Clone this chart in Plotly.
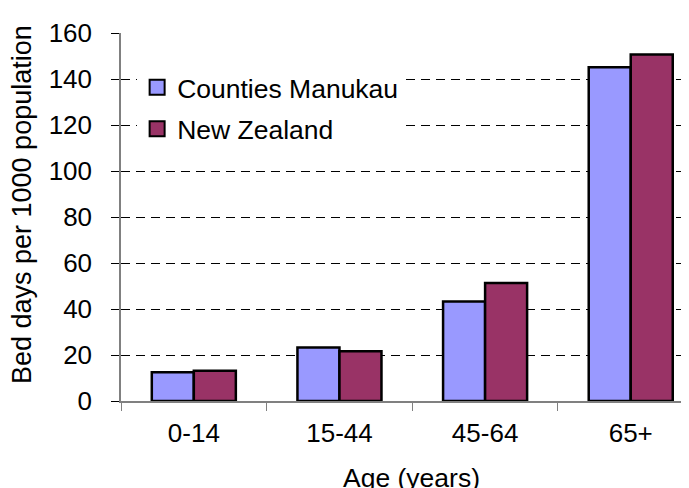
import plotly.graph_objects as go

# Bed days per 1000 population by age group
age_groups = ['0-14', '15-44', '45-64', '65+']
counties_manukau = [12.5, 23.3, 43.3, 145.1]
new_zealand = [13.2, 21.6, 51.3, 150.6]

FONT = 'Liberation Sans, Arial, sans-serif'
CM_COLOR = '#9999FF'
NZ_COLOR = '#993366'

fig = go.Figure()
for name, vals, color in [('Counties Manukau', counties_manukau, CM_COLOR),
                          ('New Zealand', new_zealand, NZ_COLOR)]:
    fig.add_trace(go.Bar(
        x=age_groups, y=vals, name=name, showlegend=False,
        marker=dict(color=color, line=dict(color='black', width=2.5))
    ))

# legend-only entries so the swatches come out as big squares like Excel's
for name, color in [('Counties Manukau', CM_COLOR), ('New Zealand', NZ_COLOR)]:
    fig.add_trace(go.Scatter(
        x=[None], y=[None], mode='markers', name=name, legendgroup=name,
        marker=dict(symbol='square', size=15, color=color,
                    line=dict(color='black', width=2))
    ))

fig.update_layout(
    width=689,
    height=488,
    margin=dict(l=113, r=0, t=25, b=95),
    paper_bgcolor='white',
    plot_bgcolor='white',
    font=dict(family=FONT, size=26, color='black'),
    barmode='group',
    bargap=0.423,
    bargroupgap=0,
    showlegend=True,
    legend=dict(
        x=0.028, y=0.917, xanchor='left', yanchor='top',
        bgcolor='white', font=dict(size=26.5),
        traceorder='grouped', tracegroupgap=4,
        itemclick=False,
    ),
    annotations=[
        dict(text='Bed days per 1000 population', textangle=-90,
             xref='paper', yref='paper', x=-0.172, y=0.535,
             xanchor='center', yanchor='middle', showarrow=False,
             font=dict(size=27)),
        dict(text='Age (years)',
             xref='paper', yref='paper', x=0.505, y=-0.21,
             xanchor='center', yanchor='middle', showarrow=False,
             font=dict(size=26.5)),
    ],
)

fig.update_xaxes(
    type='category',
    range=[-0.5, 3.455],
    showline=True, linecolor='#808080', linewidth=1.5,
    ticks='outside', tickson='boundaries', ticklen=8, tickcolor='#808080',
    ticklabelstandoff=8,
    showgrid=False, zeroline=False,
)
fig.update_yaxes(
    range=[0, 160],
    dtick=20,
    showline=True, linecolor='#808080', linewidth=1.5,
    ticks='outside', ticklen=8, tickcolor='black',
    ticklabelstandoff=14,
    showgrid=True, gridcolor='black', gridwidth=1, griddash='9px,6px',
    zeroline=False,
)

fig.write_html('out.html')
